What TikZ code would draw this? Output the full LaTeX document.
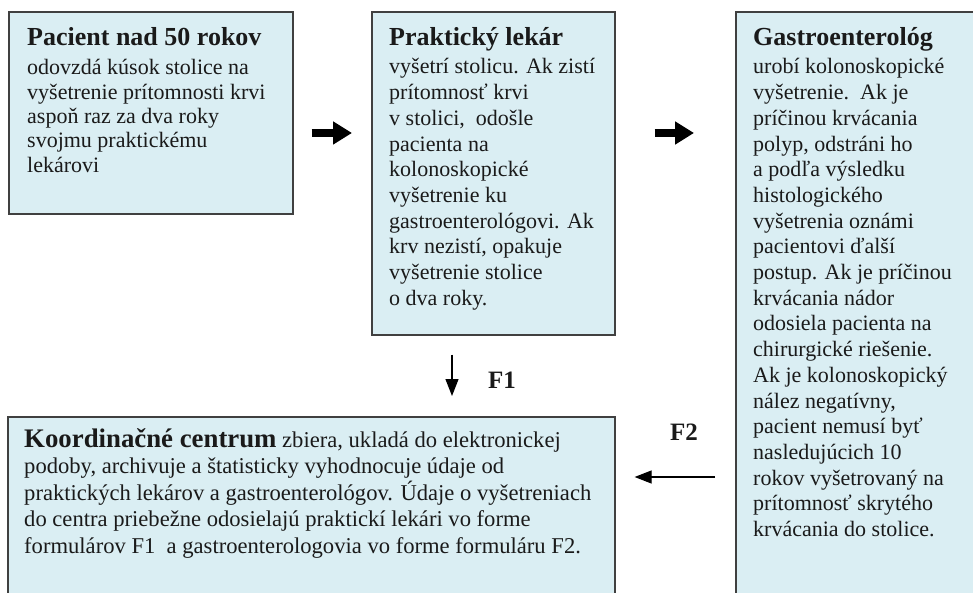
\documentclass[tikz,border=0pt]{standalone}
\usepackage{fontspec}
\setmainfont{Liberation Serif}
\usetikzlibrary{arrows.meta,calc}
\definecolor{boxfill}{HTML}{DAEEF3}
\definecolor{boxline}{HTML}{404040}
\definecolor{txt}{HTML}{1A1A1A}
\newcommand{\mybodyfont}{\fontsize{22}{24.4}\selectfont}
\newcommand{\mytallfont}{\fontsize{22}{25.7}\selectfont}
\newcommand{\mywidefont}{\fontsize{22.6}{26.5}\selectfont}
\newcommand{\mytitlefont}{\bfseries\fontsize{26}{30}\selectfont}
\newcommand{\mybigtitlefont}{\bfseries\fontsize{26.8}{30}\selectfont}
\begin{document}
\begin{tikzpicture}[x=1pt,y=-1pt,
  panel/.style={draw=boxline, line width=1.6pt, fill=boxfill, rectangle, inner sep=0pt, anchor=north west},
  paneltext/.style={anchor=north west, inner sep=0pt, align=left, text=txt, font=\mybodyfont},
  fatarrow/.style={line width=7.5pt, -{Triangle[length=19pt,width=22pt]}, black},
  thinarrow/.style={line width=1.2pt, -{Triangle[length=17pt,width=13pt]}, black},
  formlabel/.style={font=\bfseries\fontsize{25}{27}\selectfont, text=txt, inner sep=0pt}]
\useasboundingbox (0,0) rectangle (973,593);
\clip (0,0) rectangle (973,593);

% boxes
\node[panel, minimum width=284pt, minimum height=202pt] (b1) at (8,11) {};
\node[panel, minimum width=243pt, minimum height=323pt] (b2) at (371,11) {};
\node[panel, minimum width=270pt, minimum height=620pt] (b3) at (735,11) {};
\node[panel, minimum width=607pt, minimum height=220pt] (b4) at (7,416) {};

% texts
\node[paneltext] (t1) at ($(b1.north west)+(19,16)$) {{\mytitlefont Pacient nad 50 rokov}\\[5pt]
odovzdá kúsok stolice na\\
vyšetrenie prítomnosti krvi\\
aspoň raz za dva roky\\
svojmu praktickému\\
lekárovi};

\node[paneltext, font=\mytallfont] (t2) at ($(b2.north west)+(18,16)$) {{\mytitlefont Praktický lekár}\\[3pt]
vyšetrí stolicu. Ak zistí\\
prítomnosť krvi\\
v stolici,\ \ odošle\\
pacienta na\\
kolonoskopické\\
vyšetrenie ku\\
gastroenterológovi. Ak\\
krv nezistí, opakuje\\
vyšetrenie stolice\\
o dva roky.};

\node[paneltext, font=\mytallfont] (t3) at ($(b3.north west)+(18,16)$) {{\mytitlefont Gastroenterológ}\\[3pt]
urobí kolonoskopické\\
vyšetrenie.\ \ Ak je\\
príčinou krvácania\\
polyp, odstráni ho\\
a podľa výsledku\\
histologického\\
vyšetrenia oznámi\\
pacientovi ďalší\\
postup. Ak je príčinou\\
krvácania nádor\\
odosiela pacienta na\\
chirurgické riešenie.\\
Ak je kolonoskopický\\
nález negatívny,\\
pacient nemusí byť\\
nasledujúcich 10\\
rokov vyšetrovaný na\\
prítomnosť skrytého\\
krvácania do stolice.};

\node[paneltext, font=\mywidefont] (t4) at ($(b4.north west)+(17,12)$) {{\mybigtitlefont Koordinačné centrum} zbiera, ukladá do elektronickej\\
podoby, archivuje a štatisticky vyhodnocuje údaje od\\
praktických lekárov a gastroenterológov. Údaje o vyšetreniach\\
do centra priebežne odosielajú praktickí lekári vo forme\\
formulárov F1\ \ a gastroenterologovia vo forme formuláru F2.};

% connectors
\coordinate (row1) at (0,133);
\coordinate (f1x) at (452,0);
\coordinate (f2y) at (0,477);

\draw[fatarrow, shorten <=18pt, shorten >=19pt] (b1.east |- row1) -- (b2.west |- row1);
\draw[fatarrow, shorten <=39pt, shorten >=41pt] (b2.east |- row1) -- (b3.west |- row1);
\draw[thinarrow, shorten <=19pt, shorten >=20pt] (b2.south -| f1x) -- (b4.north -| f1x);
\draw[thinarrow, shorten <=20pt, shorten >=19pt] (b3.west |- f2y) -- (b4.east |- f2y);

\node[formlabel] (lf1) at (502,380) {F1};
\node[formlabel] (lf2) at (684,432) {F2};
\end{tikzpicture}
\end{document}
